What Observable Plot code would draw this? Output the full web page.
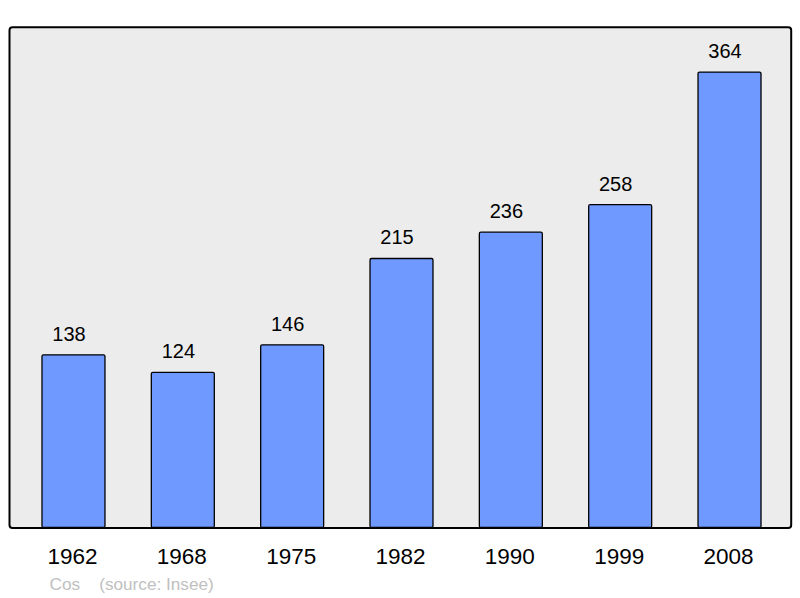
<!DOCTYPE html>
<html>
<head>
<meta charset="utf-8">
<script src="https://cdn.jsdelivr.net/npm/d3@7"></script>
<script src="https://cdn.jsdelivr.net/npm/@observablehq/plot@0.6"></script>
<style>
  html, body { margin: 0; padding: 0; background: #ffffff; }
  svg { display: block; font-family: "Liberation Sans", Arial, sans-serif; }
</style>
</head>
<body>
<div id="chart"></div>
<script>
const years = ["1962", "1968", "1975", "1982", "1990", "1999", "2008"];
const population = [138, 124, 146, 215, 236, 258, 364];
const commune = "Cos";
const source = "(source: Insee)";

const data = years.map((y, i) => ({year: y, pop: population[i]}));
const nb = "\u00a0";

const chart = Plot.plot({
  width: 800,
  height: 598,
  marginLeft: 10.5,
  marginRight: 7.5,
  marginTop: 27,
  marginBottom: 70.5,
  style: {fontFamily: "'Liberation Sans', Arial, sans-serif", background: "#ffffff"},
  x: {domain: years, paddingInner: 0.424, paddingOuter: 0.288, round: false},
  y: {domain: [0, 400], axis: null},
  marks: [
    Plot.frame({fill: "#ececec", stroke: "#000", strokeWidth: 2, rx: 3, insetLeft: -1.5, insetTop: -0.3, insetRight: 1.8, insetBottom: 0}),
    Plot.barY(data, {x: "year", y: "pop", fill: "#7099ff", stroke: "#000", strokeWidth: 1.3, rx: 1.5}),
    Plot.text(data, {x: "year", y: "pop", text: d => String(d.pop), dy: -21, dx: -5, fontSize: 20, fill: "#000"}),
    Plot.axisX({tickSize: 0, tickPadding: 20, fontSize: 22.5, dx: -1.5, label: null, fill: "#000", color: "#000"}),
    Plot.text([commune + nb + nb + nb + nb + source], {frameAnchor: "bottom-left", lineAnchor: "middle", dx: 38.5, dy: 56, fontSize: 17.2, fill: "#c0c0c0", textAnchor: "start"})
  ]
});
document.getElementById("chart").appendChild(chart);
</script>
</body>
</html>
